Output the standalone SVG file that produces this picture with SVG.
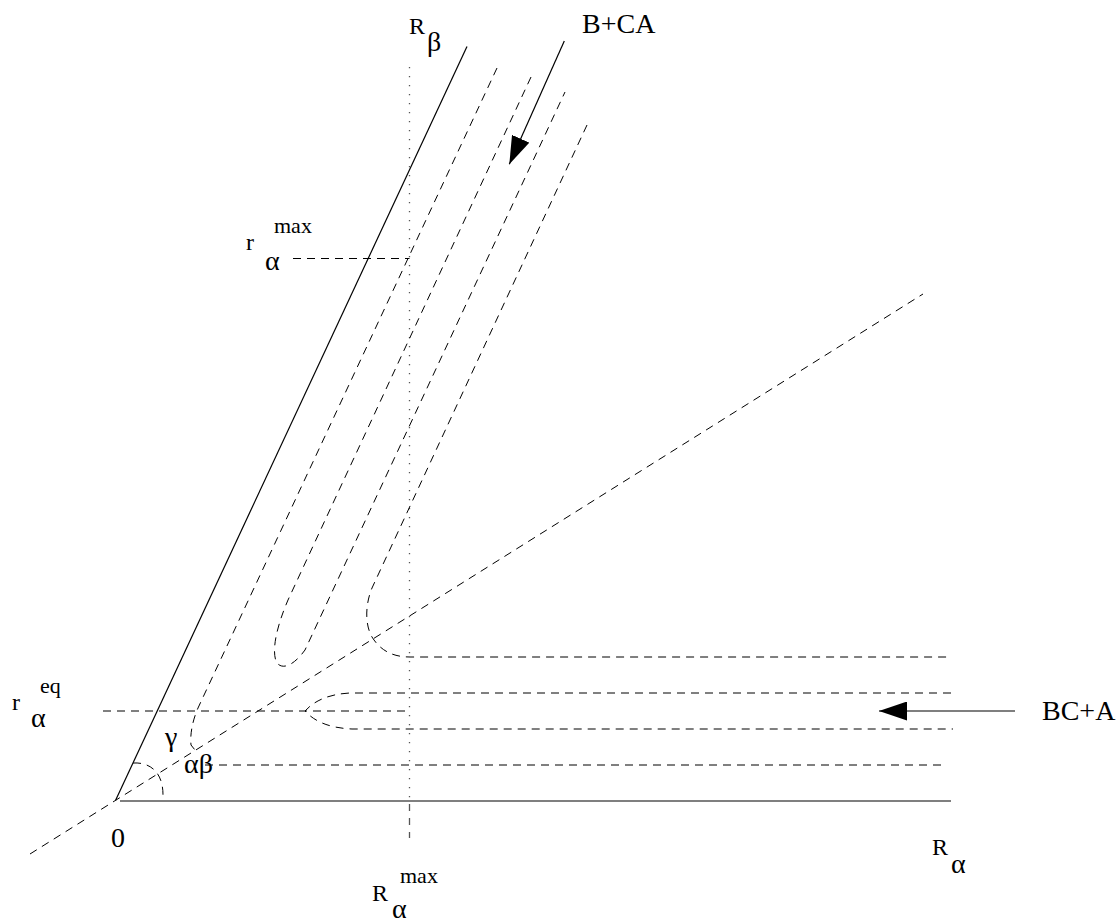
<svg xmlns="http://www.w3.org/2000/svg" width="1120" height="923" viewBox="0 0 1120 923">
<style>
.solid{fill:none;stroke:#000;stroke-width:1.2}
.dash{fill:none;stroke:#000;stroke-width:1;stroke-dasharray:8 6}
.dot{fill:none;stroke:#555;stroke-width:1.3;stroke-dasharray:1.3 7.7}
.vdash{fill:none;stroke:#555;stroke-width:1.3;stroke-dasharray:7 7}
.arrow{fill:none;stroke:#000;stroke-width:1.2}
text{font-family:"Liberation Serif","Times New Roman",serif;fill:#000}
.big{font-size:28px}
.mid{font-size:24px}
.sup{font-size:22px}
.gr{font-size:28px}
</style>
<defs>
<marker id="head" viewBox="0 0 28 19" refX="28" refY="9.5" markerWidth="28" markerHeight="19" markerUnits="userSpaceOnUse" orient="auto">
<path d="M0,0 L28,9.5 L0,19 z" fill="#000"/>
</marker>
</defs>
<g id="axes">
<line class="solid" x1="115.5" y1="800.5" x2="467" y2="46.5"/>
<line class="solid" x1="120" y1="801" x2="951" y2="801"/>
<line class="dash" x1="30" y1="854" x2="923" y2="294"/>
<line class="dot" x1="409.5" y1="67" x2="409.5" y2="800"/>
<line class="vdash" x1="409.5" y1="804" x2="409.5" y2="838"/>
</g>
<g id="guides">
<line class="dash" x1="293" y1="258.5" x2="409.5" y2="258.5" stroke-dasharray="1 6 8 6"/>
<line class="dash" x1="103" y1="711" x2="410" y2="711"/>
<path class="dash" d="M133,763 C150,762 163,772 163,795"/>
</g>
<g id="trajectories">
<path id="traj1" class="dash" d="M497,68 L198,708 C192,722 190,735 191,745 L195,750"/>
<path id="traj2" class="dash" d="M531,77 L288,600 C276,628 272,650 276,661 C280,670 292,668 305,650 L565,92"/>
<path id="traj3" class="dash" d="M587,125 L372,588 C365,605 365,625 372,637 C380,650 392,657 410,657 L948,657"/>
<path id="traj4" class="dash" d="M951,693 L350,693 C330,694 315,700 305,711 C315,722 330,728 352,729 L953,729"/>
<line id="traj5" class="dash" x1="205" y1="765" x2="946" y2="765"/>
</g>
<g id="connectors">
<line class="arrow" x1="564.3" y1="41" x2="509.3" y2="164.3" marker-end="url(#head)"/>
<line class="arrow" x1="1015" y1="711" x2="879" y2="711" marker-end="url(#head)"/>
</g>
<g id="labels">
<text class="big" x="582" y="33">B+CA</text>
<text class="big" x="1042" y="720">BC+A</text>
<text class="mid" x="409" y="34">R</text>
<text class="gr" x="427" y="51">β</text>
<text class="mid" x="246" y="250">r</text>
<text class="sup" x="274" y="233">max</text>
<text class="gr" x="265" y="270">α</text>
<text class="mid" x="12" y="710">r</text>
<text class="sup" x="40" y="693">eq</text>
<text class="gr" x="31" y="727">α</text>
<text class="big" x="111" y="847">0</text>
<text class="gr" x="165" y="746">γ</text>
<text class="gr" x="184" y="773">αβ</text>
<text class="mid" x="932" y="855">R</text>
<text class="gr" x="951" y="873">α</text>
<text class="mid" x="372" y="901">R</text>
<text class="sup" x="400" y="883">max</text>
<text class="gr" x="392" y="918">α</text>
</g>
</svg>
